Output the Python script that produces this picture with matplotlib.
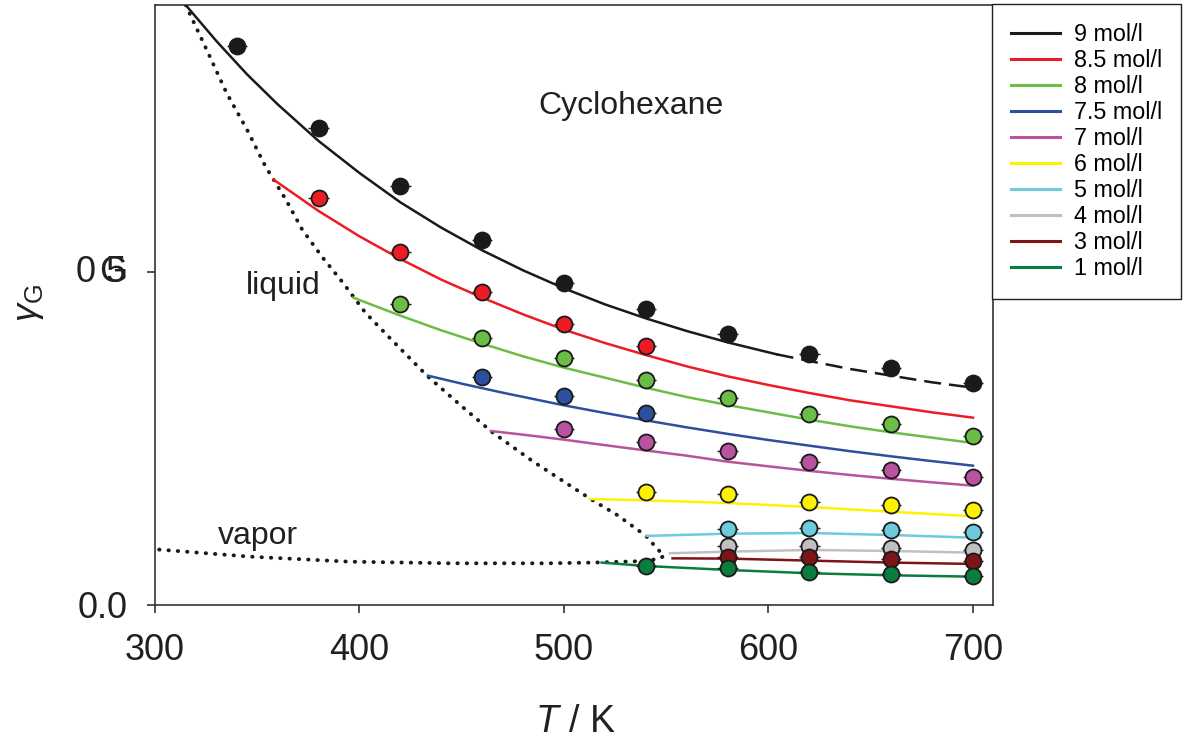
import matplotlib
matplotlib.use('Agg')
import matplotlib.pyplot as plt
from matplotlib.lines import Line2D

plt.rcParams['font.family'] = ['Liberation Sans', 'DejaVu Sans']
plt.rcParams['mathtext.fontset'] = 'custom'
plt.rcParams['mathtext.rm'] = 'Liberation Sans'
plt.rcParams['mathtext.it'] = 'Liberation Sans:italic'

# measured points (T in K)
T_pts = [340, 380, 420, 460, 500, 540, 580, 620, 660, 700]
pts_9 = [0.838, 0.715, 0.628, 0.548, 0.483, 0.444, 0.407, 0.377, 0.356, 0.333]
pts_85 = [0.610, 0.529, 0.470, 0.422, 0.389]
pts_8 = [0.452, 0.401, 0.370, 0.337, 0.311, 0.287, 0.272, 0.253]
pts_75 = [0.342, 0.313, 0.288]
pts_7 = [0.264, 0.245, 0.231, 0.215, 0.202, 0.192]
pts_6 = [0.169, 0.166, 0.155, 0.150, 0.143]
pts_5 = [0.114, 0.116, 0.113, 0.109]
pts_4 = [0.0886, 0.0886, 0.085, 0.0826]
pts_3 = [0.0726, 0.0716, 0.0686, 0.0666]
pts_1 = [0.059, 0.055, 0.050, 0.0465, 0.0435]

# model curves
T_fit9 = [315, 330, 345, 360, 380, 400, 420, 440, 460, 480, 500, 520, 540, 560, 580, 604]
fit_9 = [0.900, 0.846, 0.796, 0.751, 0.696, 0.648, 0.604, 0.566, 0.532, 0.502,
         0.475, 0.451, 0.430, 0.411, 0.394, 0.376]
T_fit9b = [604, 620, 640, 660, 680, 700]
fit_9b = [0.376, 0.366, 0.354, 0.344, 0.334, 0.326]
T_fit85 = [358, 380, 400, 420, 440, 460, 480, 500, 520, 540, 560, 580, 600, 620, 640, 660, 680, 700]
fit_85 = [0.638, 0.591, 0.553, 0.519, 0.488, 0.461, 0.436, 0.413, 0.393, 0.375,
          0.358, 0.343, 0.330, 0.318, 0.307, 0.298, 0.289, 0.281]
T_fit8 = [397, 420, 440, 460, 480, 500, 520, 540, 560, 580, 600, 620, 640, 660, 680, 700]
fit_8 = [0.461, 0.434, 0.412, 0.392, 0.373, 0.356, 0.341, 0.326, 0.312, 0.300,
         0.289, 0.278, 0.268, 0.259, 0.251, 0.243]
T_fit75 = [433.5, 450, 470, 500, 520, 540, 560, 580, 600, 620, 640, 660, 680, 700]
fit_75 = [0.344, 0.332, 0.3185, 0.2995, 0.288, 0.277, 0.2665, 0.2567, 0.2475, 0.239,
          0.2307, 0.223, 0.2158, 0.209]
T_fit7 = [464.3, 480, 500, 520, 540, 560, 580, 600, 620, 640, 660, 680, 700]
fit_7 = [0.261, 0.2555, 0.248, 0.2398, 0.2318, 0.224, 0.215, 0.208, 0.2012, 0.195,
         0.1893, 0.184, 0.179]
T_fit6 = [512.7, 540, 580, 620, 660, 700]
fit_6 = [0.159, 0.157, 0.153, 0.147, 0.140, 0.133]
T_fit5 = [540.4, 580, 620, 660, 700]
fit_5 = [0.1036, 0.107, 0.108, 0.105, 0.101]
T_fit4 = [551.8, 580, 620, 660, 700]
fit_4 = [0.0776, 0.080, 0.0826, 0.081, 0.0786]
T_fit3 = [553.1, 580, 620, 660, 700]
fit_3 = [0.070, 0.0696, 0.0666, 0.0636, 0.0616]
T_fit1 = [518.4, 540, 580, 620, 660, 700]
fit_1 = [0.0636, 0.0585, 0.0526, 0.0476, 0.0446, 0.0425]

# coexistence curve (liquid branch, then vapor branch)
T_coex = [315, 326, 335, 345, 354, 364, 372, 382, 392, 403, 415, 433, 450, 465,
          485, 501, 513, 526, 540, 546, 549, 547, 540, 514, 493, 444, 395, 346, 300]
coex = [0.900, 0.828, 0.768, 0.713, 0.658, 0.608, 0.563, 0.521, 0.483, 0.438,
        0.400, 0.344, 0.298, 0.259, 0.215, 0.183, 0.159, 0.135, 0.104, 0.083,
        0.074, 0.070, 0.066, 0.0636, 0.0626, 0.0626, 0.065, 0.0726, 0.0836]

labels = ['9 mol/l', '8.5 mol/l', '8 mol/l', '7.5 mol/l', '7 mol/l',
          '6 mol/l', '5 mol/l', '4 mol/l', '3 mol/l', '1 mol/l']
colors = ['#1a1a1a', '#ed1c24', '#6abd45', '#2e4fa0', '#b9529f',
          '#fff200', '#6dcbdc', '#c0c0c0', '#7d1416', '#0a7d3e']

series = [
    (T_pts, pts_9, T_fit9, fit_9),
    (T_pts[1:6], pts_85, T_fit85, fit_85),
    (T_pts[2:], pts_8, T_fit8, fit_8),
    (T_pts[3:6], pts_75, T_fit75, fit_75),
    (T_pts[4:], pts_7, T_fit7, fit_7),
    (T_pts[5:], pts_6, T_fit6, fit_6),
    (T_pts[6:], pts_5, T_fit5, fit_5),
    (T_pts[6:], pts_4, T_fit4, fit_4),
    (T_pts[6:], pts_3, T_fit3, fit_3),
    (T_pts[5:], pts_1, T_fit1, fit_1),
]

fig = plt.figure(figsize=(11.88, 7.4), dpi=100)
ax = fig.add_axes([155/1188, 1 - 605/740, 838/1188, 600/740])

ax.plot(T_coex, coex, color='#1a1a1a', lw=2.8, linestyle=(0, (0.1, 2.3)),
        dash_capstyle='round', zorder=2)

for (tp, yp, tf, yf), c in zip(series, colors):
    ax.plot(tf, yf, color=c, lw=1.8, zorder=3)
for (tp, yp, tf, yf), c in zip(series, colors):
    ax.errorbar(tp, yp, xerr=5, fmt='o', ms=11.5, mfc=c, mec='#1a1a1a', mew=1.3,
                ecolor='#1a1a1a', elinewidth=1, capsize=0, zorder=4)

ax.plot(T_fit9b, fit_9b, color='#1a1a1a', lw=1.8, dashes=(6.8, 3.2), zorder=3)

ax.text(533, 0.748, 'Cyclohexane', fontsize=23, ha='center', va='center', color='#231f20')
ax.text(362.6, 0.479, 'liquid', fontsize=23, ha='center', va='center', color='#231f20')
ax.text(350.4, 0.104, 'vapor', fontsize=23, ha='center', va='center', color='#231f20')

ax.set_xlim(300, 709.8)
ax.set_ylim(0, 0.9)
ax.set_xticks([300, 400, 500, 600, 700])
ax.set_yticks([0, 0.5])
ax.set_yticklabels(['0.0', ''])
ax.tick_params(direction='out', length=6, width=1.2, pad=14, labelsize=26,
               colors='#333333', labelcolor='#231f20')
for s in ax.spines.values():
    s.set_color('#333333')
    s.set_linewidth(1.2)

# the 0.5 label is printed with overlapping glyphs
fig.text(86/1188, 1 - 272/740, '0', fontsize=26, ha='center', va='center', color='#231f20')
fig.text(113/1188, 1 - 272/740, 'G', fontsize=26, ha='center', va='center', color='#231f20')
fig.text(116/1188, 1 - 272/740, '5', fontsize=26, ha='center', va='center', color='#231f20')

fig.text(28/1188, 1 - 303/740, r'$\gamma_{\mathrm{G}}$', fontsize=26, rotation=90,
         ha='center', va='center', color='#231f20')
fig.text(575/1188, 1 - 722/740, r'$T$ / K', fontsize=27, ha='center', va='center',
         color='#231f20')

handles = [Line2D([], [], color=c, lw=2.2) for c in colors]
fig.legend(handles, labels, loc='upper left', bbox_to_anchor=(992/1188, 1 - 4/740),
           fontsize=16.8, frameon=True, fancybox=False, edgecolor='#231f20',
           framealpha=1, labelspacing=0.13, handlelength=2.1, handletextpad=0.6,
           borderpad=0.8, borderaxespad=0)

fig.savefig('out.png', dpi=100)
